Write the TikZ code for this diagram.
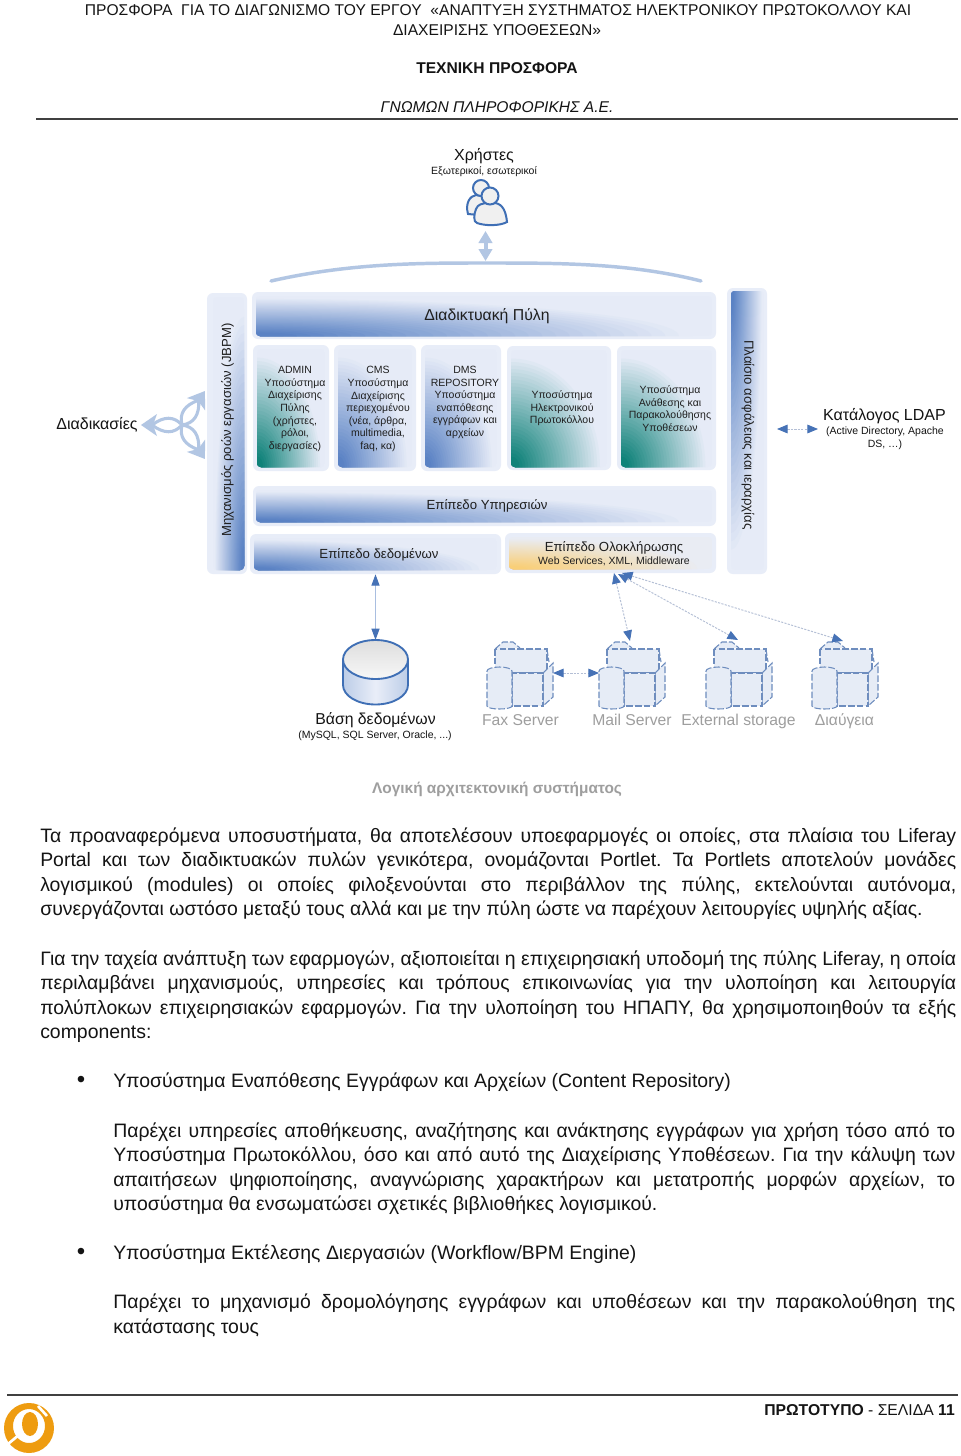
\documentclass[tikz,border=0pt]{standalone}
\usepackage{fontspec}
\setmainfont{Liberation Sans}
\usetikzlibrary{arrows.meta,calc}
\newcommand\fpx[2]{\fontsize{\fpeval{#1*0.75}pt}{\fpeval{#2*0.75}pt}\selectfont}
\definecolor{outerc}{HTML}{E8EDF8}
\definecolor{palec}{HTML}{E6EBF7}
\definecolor{palegrey}{HTML}{E9ECF3}
\definecolor{blue1}{HTML}{5A82C4}
\definecolor{teal1}{HTML}{0F8279}
\definecolor{yel1}{HTML}{F9CF78}
\definecolor{midblue}{HTML}{A9BEE0}
\definecolor{arrowpale}{HTML}{B2C6E3}
\definecolor{tipblue}{HTML}{4672B6}
\definecolor{iconblue}{HTML}{3F6FB5}
\definecolor{dashgrey}{HTML}{B4BFD5}
\definecolor{greytxt}{HTML}{9E9E9E}
\definecolor{dashicon}{HTML}{6E8DBE}
\definecolor{iconfill}{HTML}{E6ECF6}
\definecolor{dbside}{HTML}{BCCDE8}
\definecolor{dbmid}{HTML}{E9EEF8}
\definecolor{orangec}{HTML}{EE9C10}
\tikzset{
  outerbox/.style={fill=outerc,draw=none,rounded corners=6*0.75pt,inner sep=0pt},
  lbl/.style={inner sep=0pt,align=center,text=black!88},
  boxfont/.style={font={\fpx{10.5}{12.55}}},
  bodytext/.style={inner sep=0pt,anchor=north west,align=justify,text=black!92,font={\fpx{19.43}{24.35}\frenchspacing}},
  plain/.style={inner sep=0pt,text=black!92},
  greylabel/.style={inner sep=0pt,anchor=base,text=greytxt,font={\fpx{15.7}{17}}},
  solidarrow/.style={draw=midblue,line width=0.9pt,{Triangle[length=8.5pt,width=6pt,fill=tipblue,color=tipblue]}-{Triangle[length=8.5pt,width=6pt,fill=tipblue,color=tipblue]}},
  dasharrow/.style={draw=dashgrey,line width=0.7pt,dash pattern=on 1.6pt off 1pt,{Triangle[length=8pt,width=6.5pt,fill=tipblue,color=tipblue]}-{Triangle[length=8pt,width=6.5pt,fill=tipblue,color=tipblue]}},
  servericon/.pic={
    \begin{scope}[draw=dashicon,line width=0.8pt,dash pattern=on 5pt off 1.6pt,fill=iconfill]
      \filldraw (8,7) -- (16,0) -- (26,0) -- (33,6);
      \draw (60,7) -- (62,20);
      \filldraw (8,7) rectangle (60,31);
      \filldraw (56,31) -- (66,21) -- (66,55) -- (56,64) -- cycle;
      \filldraw (25,31) rectangle (56,64);
      \filldraw (0,29) arc[x radius=12.5,y radius=4,start angle=180,end angle=360] -- (25,64) arc[x radius=12.5,y radius=3,start angle=0,end angle=180] -- cycle;
    \end{scope}
  }
}
\newcommand\obox[5]{\node[outerbox,minimum width={(#4-#2)*0.75pt},minimum height={(#5-#3)*0.75pt}] (#1) at ({(#2+#4)/2},{(#3+#5)/2}) {};}
% x1,y1,x2,y2, gradient corner x, corner y, dark colour, pale colour
\newcommand\gbox[8]{%
\begin{scope}
  \clip[rounded corners=3pt] (#1,#2) rectangle (#3,#4);
  \fill[#8] (#1,#2) rectangle (#3,#4);
  \foreach \i in {1,2,...,32}{
    \pgfmathsetmacro\dd{0.957*(1-(\i-1)/32)}
    \pgfmathsetmacro\pp{min(100,100*(1.1-1.15*\dd))}
    \pgfmathsetmacro\rx{\dd*(#3-#1)}
    \pgfmathsetmacro\ry{\dd*(#4-#2)}
    \fill[#7!\pp!#8] (#5,#6) ellipse[x radius=\rx,y radius=\ry];
  }
\end{scope}}
\begin{document}
\begin{tikzpicture}[x=0.75pt,y=-0.75pt]
\useasboundingbox (0,0) rectangle (960,1456);
\fill[white] (0,0) rectangle (960,1456);
% header
\node[plain,font={\fpx{15.6}{20}}] (h1) at (498,10) {ΠΡΟΣΦΟΡΑ\ \ ΓΙΑ ΤΟ ΔΙΑΓΩΝΙΣΜΟ ΤΟΥ ΕΡΓΟΥ\ \ «ΑΝΑΠΤΥΞΗ ΣΥΣΤΗΜΑΤΟΣ ΗΛΕΚΤΡΟΝΙΚΟΥ ΠΡΩΤΟΚΟΛΛΟΥ ΚΑΙ};
\node[plain,font={\fpx{15.6}{20}}] (h2) at (497,30) {ΔΙΑΧΕΙΡΙΣΗΣ ΥΠΟΘΕΣΕΩΝ»};
\node[plain,font={\fpx{15.6}{20}\bfseries}] (h3) at (497,68) {ΤΕΧΝΙΚΗ ΠΡΟΣΦΟΡΑ};
\node[plain,font={\fpx{15.6}{20}\itshape}] (h4) at (497,107.5) {ΓΝΩΜΩΝ ΠΛΗΡΟΦΟΡΙΚΗΣ Α.Ε.};
\coordinate (hl) at (36,119); \coordinate (hr) at (958,119);
\draw[line width=1pt,black!75] (hl) -- (hr);
% users
\node[plain,font={\fpx{16}{18}}] (users) at (484,156.5) {Χρήστες};
\node[plain,font={\fpx{10.5}{12}}] (userssub) at (484,171.5) {Εξωτερικοί, εσωτερικοί};
\begin{scope}[draw=iconblue,line width=1.5pt,fill=white!94!black]
  \filldraw (468,214) .. controls (465,203) and (470,196) .. (476,195) -- (490,197) -- (490,216) -- cycle;
  \filldraw (481,188) circle[radius=8];
  \filldraw (477,223) .. controls (473,222) and (474,214) .. (476,209) .. controls (478,204) and (482,204) .. (486,203) -- (495,203) .. controls (503,204) and (506,212) .. (507,222) .. controls (500,226) and (485,226) .. (477,223) -- cycle;
  \filldraw (490,196) circle[radius=8.5];
\end{scope}
\coordinate (ua) at (485.5,231); \coordinate (ub) at (485.5,261);
\draw[draw=arrowpale,line width=3pt,{Triangle[length=9pt,width=10pt,color=arrowpale]}-{Triangle[length=9pt,width=10pt,color=arrowpale]}] (ua) -- (ub);
\coordinate (arcl) at (271,281); \coordinate (arcr) at (701,281);
\draw[draw=arrowpale,line width=2.6pt,line cap=round] (arcl) .. controls (350,263) and (420,263) .. (486,263) .. controls (560,263) and (630,263) .. (arcr);
% left bar
\obox{leftbar}{207}{293}{247}{574}
\gbox{213}{297}{244}{570}{244}{570}{blue1}{palec}
\node[lbl,rotate=90,font={\fpx{13.15}{16}}] (jbpm) at (227.5,430) {Μηχανισμός ροών εργασιών (JBPM)};
% right bar
\obox{rightbar}{727}{288}{767}{574}
\gbox{731}{291}{764}{570}{731}{291}{blue1}{palec}
\node[lbl,rotate=-90,font={\fpx{13.2}{16}}] (sec) at (748,435) {Πλαίσιο ασφάλειας και ιεραρχίας};
% portal
\obox{portal}{252}{292}{716}{339}
\gbox{256}{296}{712}{336}{256}{336}{blue1}{palec}
\node[lbl,font={\fpx{15.8}{18}}] (portalt) at (487,316) {Διαδικτυακή Πύλη};
% subsystems
\obox{admin}{253}{345}{329}{471}
\gbox{257}{349}{325}{467}{257}{467}{teal1}{palec}
\node[lbl,boxfont] (admint) at (295,409) {ADMIN\\Υποσύστημα\\Διαχείρισης\\Πύλης\\(χρήστες,\\ρόλοι,\\διεργασίες)};
\obox{cms}{334}{345}{416}{471}
\gbox{338}{349}{412}{467}{338}{467}{blue1}{palec}
\node[lbl,boxfont] (cmst) at (378,409) {CMS\\Υποσύστημα\\Διαχείρισης\\περιεχομένου\\(νέα, άρθρα,\\multimedia,\\faq, κα)};
\obox{dms}{421}{345}{501}{471}
\gbox{425}{349}{497}{467}{425}{467}{blue1}{palec}
\node[lbl,boxfont] (dmst) at (465,402.5) {DMS\\REPOSITORY\\Υποσύστημα\\εναπόθεσης\\εγγράφων και\\αρχείων};
\obox{proto}{507}{346}{611}{470}
\gbox{511}{350}{607}{467}{511}{467}{teal1}{palec}
\node[lbl,boxfont] (protot) at (562,408.5) {Υποσύστημα\\Ηλεκτρονικού\\Πρωτοκόλλου};
\obox{case}{617}{346}{716}{470}
\gbox{621}{350}{712}{467}{621}{467}{teal1}{palec}
\node[lbl,boxfont] (caset) at (670,408.5) {Υποσύστημα\\Ανάθεσης και\\Παρακολούθησης\\Υποθέσεων};
% layers
\obox{serv}{253}{486}{716}{526}
\gbox{256}{490}{712}{522}{256}{522}{blue1}{palec}
\node[lbl,font={\fpx{13.2}{15}}] (servt) at (487,506) {Επίπεδο Υπηρεσιών};
\obox{data}{250}{534}{501}{574}
\gbox{254}{538}{497}{570}{254}{570}{blue1}{palec}
\node[lbl,font={\fpx{13.2}{15}}] (datat) at (379,555) {Επίπεδο δεδομένων};
\obox{integ}{505}{533}{716}{573}
\gbox{509}{537}{712}{569}{509}{569}{yel1}{palegrey}
\node[lbl,font={\fpx{13.2}{15}}] (integt) at (614,548) {Επίπεδο Ολοκλήρωσης};
\node[lbl,font={\fpx{10.5}{12}}] (integs) at (614,561.5) {Web Services, XML, Middleware};
% side labels
\node[plain,font={\fpx{16}{18}}] (proc) at (97,424.5) {Διαδικασίες};
\foreach \a in {180,56,-56}{
\begin{scope}[shift={(182,425)},rotate=\a]
  \draw[arrowpale,line width=2.3pt] (0,0) .. controls (8,9) and (18,9) .. (30,0) .. controls (18,-9) and (8,-9) .. (0,0);
  \fill[arrowpale] (41,0) -- (25,-11) -- (29,0) -- (25,11) -- cycle;
\end{scope}}
\node[plain,font={\fpx{16}{18}}] (ldap) at (884.5,416) {Κατάλογος LDAP};
\node[plain,align=center,font={\fpx{10.5}{12.6}}] (ldaps) at (885,438.5) {(Active Directory, Apache\\DS, …)};
\coordinate (la) at (777,429); \coordinate (lb) at (818,429);
\draw[dasharrow] (la) -- (lb);
% database
\coordinate (dbtop) at (375.5,640);
\draw[solidarrow] (data.south) -- (dbtop);
\shade[left color=dbside,right color=dbside,middle color=dbmid] (343,659.5) -- (343,685) arc[x radius=32.5,y radius=19.5,start angle=180,end angle=0] -- (408,659.5) -- cycle;
\draw[iconblue,line width=1.4pt] (343,659.5) -- (343,685) arc[x radius=32.5,y radius=19.5,start angle=180,end angle=0] -- (408,659.5);
\shade[top color=black!13,bottom color=black!3] (375.5,659.5) ellipse[x radius=32.5,y radius=19.5];
\draw[iconblue,line width=1.4pt] (375.5,659.5) ellipse[x radius=32.5,y radius=19.5];
\node[plain,font={\fpx{15.8}{17}}] (dbl) at (375.5,720.5) {Βάση δεδομένων};
\node[plain,font={\fpx{10.5}{12}}] (dbs) at (375,735.5) {(MySQL, SQL Server, Oracle, ...)};
% servers
\pic at (487,642) {servericon};
\pic at (599,642) {servericon};
\pic at (706,642) {servericon};
\pic at (812,642) {servericon};
\coordinate (faxr) at (553,673); \coordinate (mailw) at (599,673);
\coordinate (mailn) at (630,641); \coordinate (extn) at (738,640); \coordinate (dian) at (843,641);
\coordinate (ia) at (614,573); \coordinate (ib) at (618,574); \coordinate (ic) at (622,573);
\draw[dasharrow] (faxr) -- (mailw);
\draw[dasharrow] (ia) -- (mailn);
\draw[dasharrow] (ib) -- (extn);
\draw[dasharrow] (ic) -- (dian);
\node[greylabel] (fax) at (520.5,725.5) {Fax Server};
\node[greylabel] (mail) at (632,725.5) {Mail Server};
\node[greylabel] (ext) at (738.5,725.5) {External storage};
\node[greylabel] (dia) at (844.5,725.5) {Διαύγεια};
\node[inner sep=0pt,text=greytxt,font={\fpx{15.4}{17}\bfseries}] (cap) at (497,789) {Λογική αρχιτεκτονική συστήματος};
% body
\node[bodytext,text width=916*0.75pt] (p1) at (40,827.5) {Τα προαναφερόμενα υποσυστήματα, θα αποτελέσουν υποεφαρμογές οι οποίες, στα πλαίσια του Liferay\linebreak Portal και των διαδικτυακών πυλών γενικότερα, ονομάζονται Portlet. Τα Portlets αποτελούν μονάδες\linebreak λογισμικού (modules) οι οποίες φιλοξενούνται στο περιβάλλον της πύλης, εκτελούνται αυτόνομα,\linebreak συνεργάζονται ωστόσο μεταξύ τους αλλά και με την πύλη ώστε να παρέχουν λειτουργίες υψηλής αξίας.};
\node[bodytext,text width=916*0.75pt] (p2) at (40,950.5) {Για την ταχεία ανάπτυξη των εφαρμογών, αξιοποιείται η επιχειρησιακή υποδομή της πύλης Liferay, η οποία\linebreak περιλαμβάνει μηχανισμούς, υπηρεσίες και τρόπους επικοινωνίας για την υλοποίηση και λειτουργία\linebreak πολύπλοκων επιχειρησιακών εφαρμογών. Για την υλοποίηση του ΗΠΑΠΥ, θα χρησιμοποιηθούν τα εξής\linebreak components:};
\node[plain,font={\fpx{24}{26}}] (b1) at (81,1082) {•};
\node[bodytext] (b1t) at (113,1072.5) {Υποσύστημα Εναπόθεσης Εγγράφων και Αρχείων (Content Repository)};
\node[bodytext,text width=842*0.75pt] (p3) at (113,1122.5) {Παρέχει υπηρεσίες αποθήκευσης, αναζήτησης και ανάκτησης εγγράφων για χρήση τόσο από το\linebreak Υποσύστημα Πρωτοκόλλου, όσο και από αυτό της Διαχείρισης Υποθέσεων. Για την κάλυψη των\linebreak απαιτήσεων ψηφιοποίησης, αναγνώρισης χαρακτήρων και μετατροπής μορφών αρχείων, το\linebreak υποσύστημα θα ενσωματώσει σχετικές βιβλιοθήκες λογισμικού.};
\node[plain,font={\fpx{24}{26}}] (b2) at (81,1254) {•};
\node[bodytext] (b2t) at (113,1244.5) {Υποσύστημα Εκτέλεσης Διεργασιών (Workflow/BPM Engine)};
\node[bodytext,text width=842*0.75pt] (p4) at (113,1294) {Παρέχει το μηχανισμό δρομολόγησης εγγράφων και υποθέσεων και την παρακολούθηση της\linebreak κατάστασης τους};
% footer
\coordinate (fl) at (7,1395); \coordinate (fr) at (958,1395);
\draw[line width=1pt,black!75] (fl) -- (fr);
\node[inner sep=0pt,anchor=east,text=black!92,font={\fpx{15.7}{18}}] (foot) at (955,1410) {\textbf{ΠΡΩΤΟΤΥΠΟ} - ΣΕΛΙΔΑ \textbf{11}};
% logo
\fill[orangec,even odd rule] (29,1428) circle[radius=25] (29,1426) ellipse[x radius=16,y radius=17];
\fill[orangec] (30,1424) ellipse[x radius=8,y radius=12];
\draw[white,line width=2pt] (8,1444) -- (20,1434);
\draw[white,line width=2pt] (38,1406) -- (47,1416);
\end{tikzpicture}
\end{document}
